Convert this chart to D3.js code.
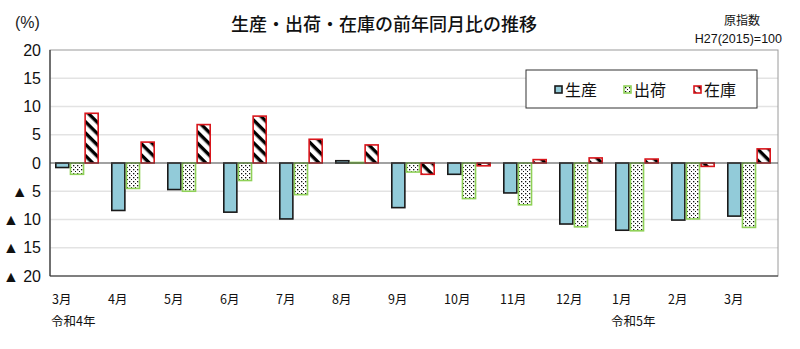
<!DOCTYPE html>
<html><head><meta charset="utf-8">
<script src="https://cdn.jsdelivr.net/npm/d3@7"></script>
<style>body{margin:0;background:#fff}svg{display:block}</style>
</head><body>
<svg id="c" width="800" height="349"></svg>
<script>
const months = ["3月","4月","5月","6月","7月","8月","9月","10月","11月","12月","1月","2月","3月"];
const yearLabels = [{i:0, t:"令和4年"}, {i:10, t:"令和5年"}];
const seriesNames = ["生産","出荷","在庫"];
const production = [-0.8,-8.4,-4.7,-8.7,-9.9,0.4,-7.9,-2.0,-5.3,-10.8,-11.9,-10.1,-9.4];
const shipments  = [-2.0,-4.5,-5.0,-3.1,-5.6,0.1,-1.6,-6.3,-7.4,-11.3,-12.0,-9.9,-11.4];
const inventory  = [8.8,3.7,6.8,8.3,4.2,3.2,-2.0,-0.5,0.6,0.9,0.7,-0.6,2.5];
const yTicks = [20,15,10,5,0,-5,-10,-15,-20];
const tickLabel = v => v < 0 ? "▲ " + (-v) : String(v);

const svg = d3.select("#c");
const L = 50, R = 778, T = 50, B = 276;
const font = "'Liberation Sans Narrow','Liberation Sans',sans-serif";
const jfont = "'Noto Sans CJK JP','Noto Sans',sans-serif";

const defs = svg.append("defs");
const dots = defs.append("pattern").attr("id","dots").attr("patternUnits","userSpaceOnUse").attr("width",4).attr("height",4);
dots.append("rect").attr("width",4).attr("height",4).attr("fill","#fff");
dots.append("rect").attr("x",1).attr("y",1).attr("width",1.3).attr("height",1.3).attr("fill","#111");
dots.append("rect").attr("x",3).attr("y",3).attr("width",1.3).attr("height",1.3).attr("fill","#111");
const hatch = defs.append("pattern").attr("id","hatch").attr("patternUnits","userSpaceOnUse").attr("width",8).attr("height",8).attr("patternTransform","rotate(45)");
hatch.append("rect").attr("width",8).attr("height",8).attr("fill","#fff");
hatch.append("rect").attr("x",0).attr("y",0).attr("width",8).attr("height",3.4).attr("fill","#000");

const x = d3.scaleBand().domain(d3.range(months.length)).range([L, R]).padding(0);
const xs = d3.scaleBand().domain(seriesNames).range([5, 49]).padding(0);
const y = d3.scaleLinear().domain([-20, 20]).range([B, T]);

// gridlines
svg.append("g").selectAll("line").data(yTicks.filter(v => v !== 0 && v !== -20 && v !== 20)).join("line")
  .attr("x1", L).attr("x2", R).attr("y1", d => y(d)).attr("y2", d => y(d))
  .attr("stroke", "#e3e3e3").attr("stroke-width", 1.5);

// frame
svg.append("rect").attr("x", L).attr("y", T).attr("width", R - L).attr("height", B - T)
  .attr("fill", "none").attr("stroke", "#9a9a9a").attr("stroke-width", 1);
svg.append("line").attr("x1", L).attr("x2", L).attr("y1", T).attr("y2", B).attr("stroke", "#333").attr("stroke-width", 1.2);
svg.append("line").attr("x1", L).attr("x2", R).attr("y1", B).attr("y2", B).attr("stroke", "#333").attr("stroke-width", 1.2);

// y axis labels
const yAxis = d3.axisLeft(y).tickValues(yTicks).tickFormat(tickLabel).tickSize(0).tickPadding(9);
const ya = svg.append("g").attr("transform", `translate(${L},0)`).call(yAxis);
ya.select(".domain").remove();
ya.selectAll("text").attr("font-family", font).attr("font-size", 16).attr("fill", "#111");

const series = [
  {name: "生産", vals: production, fill: "#92cbd9", stroke: "#1a1a1a", sw: 1.6},
  {name: "出荷", vals: shipments, fill: "url(#dots)", stroke: "#8fd158", sw: 1.6},
  {name: "在庫", vals: inventory, fill: "url(#hatch)", stroke: "#d9161c", sw: 1.6}
];

series.forEach(s => {
  svg.append("g").selectAll("rect").data(s.vals).join("rect")
    .attr("x", (d, i) => x(i) + xs(s.name) + 0.8)
    .attr("width", xs.bandwidth() - 1.6)
    .attr("y", d => y(Math.max(0, d)))
    .attr("height", d => Math.max(Math.abs(y(d) - y(0)), 0.8))
    .attr("fill", s.fill).attr("stroke", s.stroke).attr("stroke-width", s.sw);
});

// zero line
svg.append("line").attr("x1", L).attr("x2", R).attr("y1", y(0)).attr("y2", y(0)).attr("stroke", "#444").attr("stroke-width", 1.2);

// x labels
const xAxis = d3.axisBottom(x).tickFormat(i => months[i]).tickSize(0).tickPadding(0);
const xa = svg.append("g").attr("transform", `translate(0,${B + 28})`).call(xAxis);
xa.select(".domain").remove();
xa.selectAll(".tick").attr("transform", d => `translate(${x(d) + 2},0)`);
xa.selectAll("text").attr("text-anchor", "start").attr("dy", 0).attr("font-family", jfont).attr("font-size", 12.5).attr("fill", "#111");

svg.append("g").selectAll("text").data(yearLabels).join("text")
  .attr("x", d => x(d.i) + 1).attr("y", 326).text(d => d.t)
  .attr("font-family", jfont).attr("font-size", 12.5).attr("fill", "#111");

// title & notes
svg.append("text").attr("x", 384).attr("y", 31).attr("text-anchor", "middle")
  .attr("font-family", jfont).attr("font-size", 18).attr("font-weight", 500).attr("fill", "#111")
  .text("生産・出荷・在庫の前年同月比の推移");
svg.append("text").attr("x", 15).attr("y", 28).attr("font-family", font).attr("font-size", 16).attr("fill", "#222").text("(%)");
svg.append("text").attr("x", 742).attr("y", 25).attr("text-anchor", "middle").attr("font-family", jfont).attr("font-size", 12).attr("fill", "#111").text("原指数");
svg.append("text").attr("x", 782).attr("y", 43).attr("text-anchor", "end").attr("font-family", font).attr("font-size", 12.5).attr("fill", "#111").text("H27(2015)=100");

// legend
svg.append("rect").attr("x", 526).attr("y", 70).attr("width", 231).attr("height", 38)
  .attr("fill", "#fff").attr("stroke", "#333").attr("stroke-width", 1);
const lx = [555, 624, 694];
const lg = svg.append("g").selectAll("g").data(series).join("g")
  .attr("transform", (d, i) => `translate(${lx[i]},90)`);
lg.append("rect").attr("x", 0).attr("y", -4).attr("width", 7).attr("height", 7)
  .attr("fill", d => d.fill).attr("stroke", d => d.stroke).attr("stroke-width", 1.6);
lg.append("text").attr("x", 10).attr("y", 6).text(d => d.name)
  .attr("font-family", jfont).attr("font-size", 16).attr("fill", "#111");
</script>
</body></html>
